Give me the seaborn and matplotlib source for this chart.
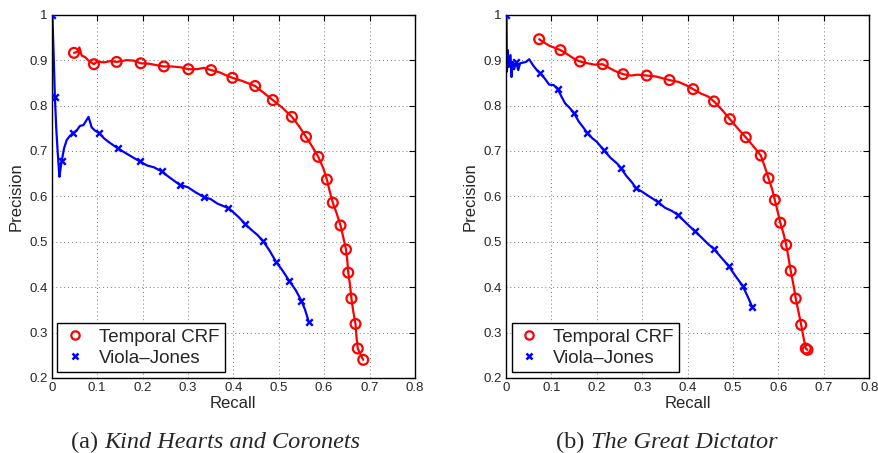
import numpy as np
import pandas as pd
import matplotlib
matplotlib.use("Agg")
import matplotlib.pyplot as plt
from matplotlib.lines import Line2D
import seaborn as sns

# ---------------- data ----------------
# (a) Kind Hearts and Coronets
a_crf_line_x = [0.049,0.056,0.061,0.066,0.073,0.080,0.093,0.100,0.115,0.130,0.143,0.165,0.180,0.196,0.215,0.230,0.247,0.265,0.285,0.301,0.320,0.335,0.351,0.370,0.385,0.398,0.420,0.448,0.467,0.487,0.508,0.529,0.545,0.560,0.574,0.587,0.598,0.606,0.612,0.619,0.628,0.636,0.642,0.648,0.651,0.653,0.657,0.660,0.664,0.669,0.671,0.674,0.680,0.686]
a_crf_line_y = [0.916,0.918,0.928,0.910,0.907,0.900,0.891,0.897,0.895,0.898,0.896,0.900,0.899,0.893,0.892,0.889,0.886,0.886,0.884,0.880,0.880,0.883,0.878,0.873,0.866,0.861,0.854,0.843,0.828,0.812,0.795,0.775,0.754,0.731,0.709,0.687,0.662,0.637,0.612,0.586,0.561,0.536,0.510,0.483,0.458,0.432,0.404,0.375,0.347,0.319,0.292,0.265,0.252,0.240]
a_crf_mark_x = [0.049,0.093,0.143,0.196,0.247,0.301,0.351,0.398,0.448,0.487,0.529,0.560,0.587,0.606,0.619,0.636,0.648,0.653,0.660,0.669,0.674,0.686]
a_crf_mark_y = [0.916,0.891,0.896,0.893,0.886,0.880,0.878,0.861,0.843,0.812,0.775,0.731,0.687,0.637,0.586,0.536,0.483,0.432,0.375,0.319,0.265,0.240]

a_vj_line_x = [0.0015,0.004,0.007,0.010,0.013,0.017,0.020,0.022,0.027,0.033,0.040,0.048,0.055,0.062,0.070,0.081,0.088,0.095,0.104,0.115,0.125,0.135,0.145,0.160,0.175,0.194,0.210,0.225,0.242,0.255,0.270,0.283,0.300,0.315,0.336,0.350,0.365,0.389,0.400,0.413,0.426,0.440,0.453,0.466,0.480,0.494,0.508,0.523,0.537,0.550,0.558,0.566]
a_vj_line_y = [1.000,0.920,0.819,0.750,0.700,0.643,0.665,0.677,0.705,0.724,0.733,0.740,0.745,0.755,0.757,0.775,0.752,0.745,0.740,0.728,0.720,0.713,0.706,0.697,0.688,0.677,0.668,0.664,0.655,0.645,0.634,0.625,0.620,0.610,0.598,0.594,0.584,0.574,0.565,0.553,0.539,0.526,0.515,0.501,0.480,0.456,0.437,0.414,0.394,0.370,0.350,0.324]
a_vj_mark_x = [0.0015,0.007,0.022,0.048,0.104,0.145,0.194,0.242,0.283,0.336,0.389,0.426,0.466,0.494,0.523,0.550,0.566]
a_vj_mark_y = [1.000,0.819,0.677,0.740,0.740,0.706,0.677,0.655,0.625,0.598,0.574,0.539,0.501,0.456,0.414,0.370,0.324]

# (b) The Great Dictator
b_crf_line_x = [0.073,0.085,0.095,0.105,0.120,0.135,0.150,0.163,0.180,0.195,0.213,0.225,0.240,0.258,0.275,0.290,0.310,0.330,0.345,0.360,0.380,0.398,0.412,0.430,0.445,0.458,0.476,0.493,0.510,0.528,0.545,0.561,0.570,0.578,0.586,0.592,0.598,0.604,0.611,0.617,0.622,0.627,0.633,0.638,0.644,0.650,0.655,0.660,0.664]
b_crf_line_y = [0.946,0.938,0.932,0.928,0.922,0.913,0.903,0.897,0.893,0.890,0.891,0.884,0.876,0.869,0.866,0.868,0.866,0.864,0.860,0.856,0.852,0.844,0.836,0.826,0.820,0.809,0.790,0.770,0.750,0.730,0.710,0.690,0.665,0.640,0.616,0.592,0.567,0.542,0.518,0.493,0.465,0.436,0.405,0.375,0.346,0.317,0.290,0.265,0.262]
b_crf_mark_x = [0.073,0.120,0.163,0.213,0.258,0.310,0.360,0.412,0.458,0.493,0.528,0.561,0.578,0.592,0.604,0.617,0.627,0.638,0.650,0.660,0.664]
b_crf_mark_y = [0.946,0.922,0.897,0.891,0.869,0.866,0.856,0.836,0.809,0.770,0.730,0.690,0.640,0.592,0.542,0.493,0.436,0.375,0.317,0.265,0.262]

b_vj_line_x = [0.001,0.002,0.004,0.006,0.010,0.012,0.015,0.018,0.022,0.027,0.031,0.044,0.051,0.060,0.068,0.075,0.085,0.095,0.105,0.114,0.122,0.130,0.140,0.150,0.160,0.170,0.179,0.190,0.200,0.216,0.230,0.245,0.253,0.265,0.278,0.286,0.300,0.315,0.334,0.350,0.365,0.379,0.395,0.416,0.430,0.445,0.457,0.470,0.490,0.505,0.521,0.532,0.542]
b_vj_line_y = [1.000,0.875,0.922,0.885,0.911,0.863,0.896,0.880,0.896,0.878,0.893,0.896,0.902,0.888,0.878,0.871,0.860,0.846,0.845,0.836,0.820,0.805,0.795,0.783,0.765,0.752,0.740,0.728,0.720,0.701,0.685,0.672,0.662,0.645,0.630,0.618,0.610,0.600,0.588,0.575,0.568,0.559,0.543,0.523,0.510,0.495,0.485,0.470,0.447,0.425,0.403,0.380,0.357]
b_vj_mark_x = [0.001,0.022,0.075,0.114,0.150,0.179,0.216,0.253,0.286,0.334,0.379,0.416,0.457,0.490,0.521,0.542]
b_vj_mark_y = [1.000,0.896,0.871,0.836,0.783,0.740,0.701,0.662,0.618,0.588,0.559,0.523,0.485,0.447,0.403,0.357]

series_labels = ["Temporal CRF", "Viola\u2013Jones"]
x_ticks = [0, 0.1, 0.2, 0.3, 0.4, 0.5, 0.6, 0.7, 0.8]
x_ticklabels = ["0", "0.1", "0.2", "0.3", "0.4", "0.5", "0.6", "0.7", "0.8"]
y_ticks = [0.2, 0.3, 0.4, 0.5, 0.6, 0.7, 0.8, 0.9, 1.0]
y_ticklabels = ["0.2", "0.3", "0.4", "0.5", "0.6", "0.7", "0.8", "0.9", "1"]
captions = [("(a) ", "Kind Hearts and Coronets"), ("(b) ", "The Great Dictator")]

# ---------------- style ----------------
sns.set_theme(style="white")
plt.rcParams['font.family'] = ['Liberation Sans', 'DejaVu Sans']

RED = "#ff0000"
BLUE = "#0000ff"

fig = plt.figure(figsize=(8.79, 4.53), dpi=100)
axes = [fig.add_axes([51.7/879, 75/453, 363.3/879, 363.3/453]),
        fig.add_axes([506/879, 75/453, 363.3/879, 363.3/453])]

panels = [
    (a_crf_line_x, a_crf_line_y, a_crf_mark_x, a_crf_mark_y,
     a_vj_line_x, a_vj_line_y, a_vj_mark_x, a_vj_mark_y),
    (b_crf_line_x, b_crf_line_y, b_crf_mark_x, b_crf_mark_y,
     b_vj_line_x, b_vj_line_y, b_vj_mark_x, b_vj_mark_y),
]

for ax, (clx, cly, cmx, cmy, vlx, vly, vmx, vmy) in zip(axes, panels):
    ax.grid(True, linestyle=(0, (1, 3)), color="#777777", linewidth=0.7)
    ax.set_axisbelow(True)
    sns.lineplot(x=vlx, y=vly, ax=ax, sort=False, estimator=None, color=BLUE, linewidth=1.6)
    sns.lineplot(x=clx, y=cly, ax=ax, sort=False, estimator=None, color=RED, linewidth=1.6)
    sns.scatterplot(x=vmx, y=vmy, ax=ax, marker="x", color=BLUE, s=22, linewidth=1.7, zorder=4)
    sns.scatterplot(x=cmx, y=cmy, ax=ax, marker="o", facecolors="none", edgecolor=RED, s=50, linewidth=1.6, zorder=4)
    ax.set_xlim(0, 0.8)
    ax.set_ylim(0.2, 1.0)
    ax.set_xticks(x_ticks)
    ax.set_xticklabels(x_ticklabels)
    ax.set_yticks(y_ticks)
    ax.set_yticklabels(y_ticklabels)
    ax.tick_params(direction="in", top=True, right=True, length=4, width=0.8,
                   labelsize=9.5, color="black", pad=3)
    for sp in ax.spines.values():
        sp.set_color("black")
        sp.set_linewidth(1.0)
        sp.set_visible(True)
    ax.set_xlabel("Recall", fontsize=12, labelpad=1)
    ax.set_ylabel("Precision", fontsize=12, labelpad=4)
    handles = [Line2D([], [], linestyle="none", marker="o", markerfacecolor="none",
                      markeredgecolor=RED, markersize=6, markeredgewidth=1.6),
               Line2D([], [], linestyle="none", marker="x", color=BLUE,
                      markersize=4.5, markeredgewidth=1.8)]
    leg = ax.legend(handles, series_labels, loc="lower left", fontsize=13.5,
                    frameon=True, fancybox=False, framealpha=1, edgecolor="black",
                    borderpad=0.3, handlelength=1.3, handletextpad=0.6,
                    labelspacing=0.2, borderaxespad=0.3)
    leg.get_frame().set_linewidth(1.0)

# captions: regular "(a) " followed by italic title, centred
centers = [216/879, 667/879]
base_y = 5/453
fig.canvas.draw()
renderer = fig.canvas.get_renderer()
for (pre, title), cx in zip(captions, centers):
    t1 = fig.text(0, base_y, pre, fontsize=17.5, family="Liberation Serif", va="baseline")
    t2 = fig.text(0, base_y, title, fontsize=17.5, family="Liberation Serif",
                  style="italic", va="baseline")
    w1 = t1.get_window_extent(renderer).width / fig.bbox.width
    w2 = t2.get_window_extent(renderer).width / fig.bbox.width
    x0 = cx - (w1 + w2) / 2
    t1.set_x(x0)
    t2.set_x(x0 + w1)

fig.savefig("out.png", dpi=100)
